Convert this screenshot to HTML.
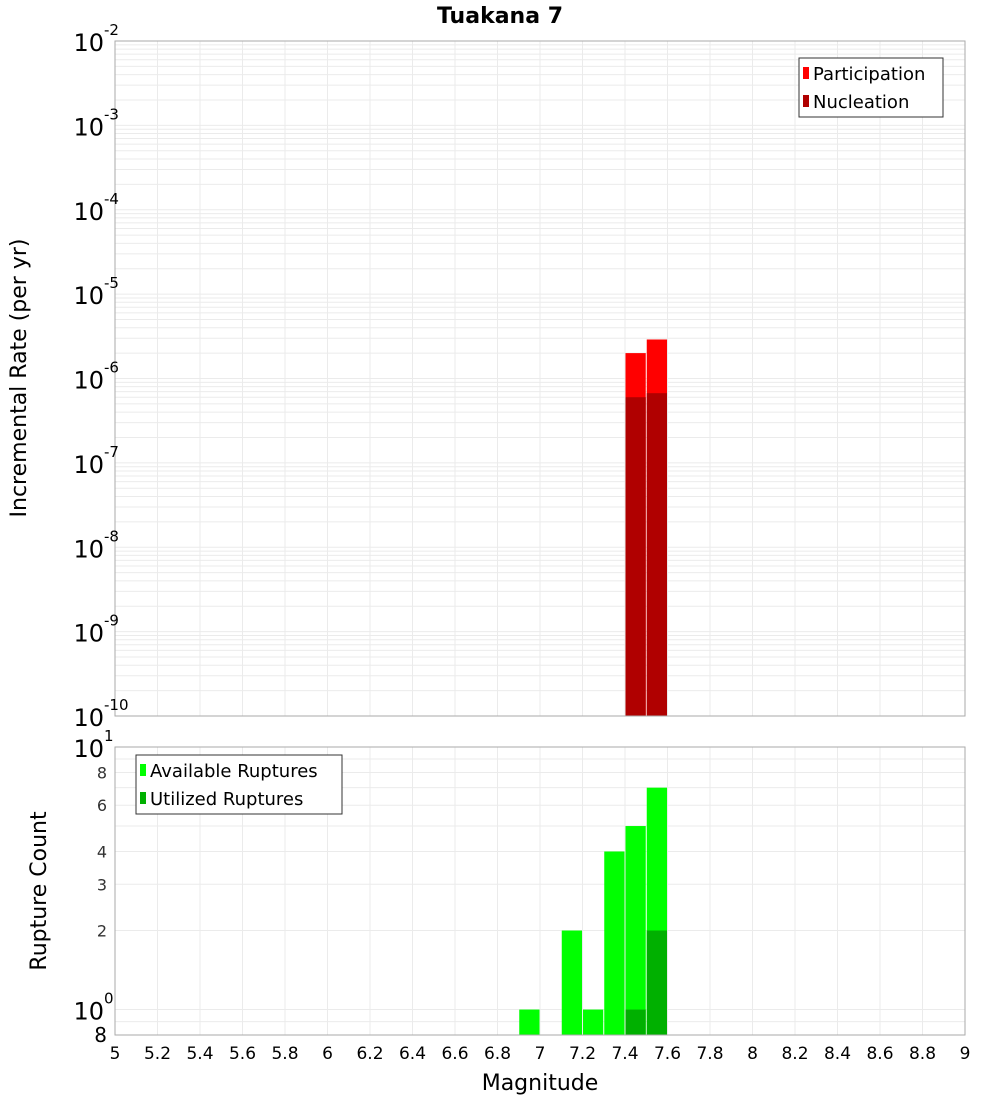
<!DOCTYPE html>
<html><head><meta charset="utf-8"><style>
body{margin:0;background:#fff;font-family:"Liberation Sans","DejaVu Sans",sans-serif;}
svg text{font-family:"DejaVu Sans","Liberation Sans",sans-serif;}
</style></head><body>
<svg id="c" width="1000" height="1100" xmlns="http://www.w3.org/2000/svg"></svg>
<script>
const binCenters=[7.45,7.55];
const participation=[2.0e-6,2.9e-6];
const nucleation=[6.0e-7,6.7e-7];
const countBins=[6.95,7.15,7.25,7.35,7.45,7.55];
const available=[1,2,1,4,5,7];
const utilBins=[7.45,7.55];
const utilized=[1,2];
const xTicks=[5,5.2,5.4,5.6,5.8,6,6.2,6.4,6.6,6.8,7,7.2,7.4,7.6,7.8,8,8.2,8.4,8.6,8.8,9];
const topExps=[-2,-3,-4,-5,-6,-7,-8,-9,-10];
const botMinor=[8,6,4,3,2];

const NS="http://www.w3.org/2000/svg",svg=document.getElementById('c');
function el(t,a,p){const e=document.createElementNS(NS,t);for(const k in a)e.setAttribute(k,a[k]);(p||svg).appendChild(e);return e;}
const L=115,R=965,T1=41,B1=716,T2=747,B2=1035;
const X=v=>L+(v-5)/4*(R-L);
const Y1=v=>T1+(-2-Math.log10(v))/8*(B1-T1);
const lmin=Math.log10(0.8),lmax=1;
const Y2=v=>B2-(Math.log10(v)-lmin)/(lmax-lmin)*(B2-T2);
const bw=(X(5.1)-X(5))-1;

// title
let t=el('text',{x:500,y:23,'text-anchor':'middle','font-size':22,'font-weight':'bold'});t.textContent='Tuakana 7';


// top grid
const g1=el('g',{});
for(let e=-10;e<-2;e++)for(let m=1;m<10;m++){const y=Y1(m*Math.pow(10,e));el('line',{x1:L,x2:R,y1:y,y2:y,stroke:'#ebebeb'},g1);}
xTicks.forEach(v=>el('line',{x1:X(v),x2:X(v),y1:T1,y2:B1,stroke:'#ebebeb'},g1));
// top bars
binCenters.forEach((c,i)=>{
 let r=el('rect',{x:X(c-0.05)+0.5,y:Y1(participation[i]),width:bw,height:B1-Y1(participation[i]),fill:'#ff0000'});
 
 r=el('rect',{x:X(c-0.05)+0.5,y:Y1(nucleation[i]),width:bw,height:B1-Y1(nucleation[i]),fill:'#b00000'});
 
});
el('rect',{x:L,y:T1,width:R-L,height:B1-T1,fill:'none',stroke:'#aaa'});
topExps.forEach(e=>{const y=Y1(Math.pow(10,e));
 const tx=el('text',{x:104,y:y+10,'text-anchor':'end','font-size':24});tx.textContent='10';
 
 const s=el('text',{x:104,y:y-6,'font-size':15});s.textContent=String(e);
});
t=el('text',{x:0,y:0,'font-size':22,'text-anchor':'middle',transform:'translate(26,378) rotate(-90)'});t.textContent='Incremental Rate (per yr)';

// top legend
const lg=el('g',{});
el('rect',{x:799,y:58,width:144,height:59,fill:'#fff',stroke:'#333'},lg);
el('rect',{x:803,y:67,width:6,height:12,fill:'#ff0000'},lg);
el('rect',{x:803,y:95,width:6,height:12,fill:'#b00000'},lg);
t=el('text',{x:813,y:80,'font-size':18},lg);t.textContent='Participation';
t=el('text',{x:813,y:108,'font-size':18},lg);t.textContent='Nucleation';

// bottom grid
const g2=el('g',{});
[0.8,0.9,1,2,3,4,5,6,7,8,9,10].forEach(v=>{const y=Y2(v);el('line',{x1:L,x2:R,y1:y,y2:y,stroke:'#ebebeb'},g2);});
xTicks.forEach(v=>el('line',{x1:X(v),x2:X(v),y1:T2,y2:B2,stroke:'#ebebeb'},g2));
countBins.forEach((c,i)=>{const r=el('rect',{x:X(c-0.05)+0.5,y:Y2(available[i]),width:bw,height:B2-Y2(available[i]),fill:'#00ff00'});
 });
utilBins.forEach((c,i)=>{const r=el('rect',{x:X(c-0.05)+0.5,y:Y2(utilized[i]),width:bw,height:B2-Y2(utilized[i]),fill:'#00b000'});
 });
el('rect',{x:L,y:T2,width:R-L,height:B2-T2,fill:'none',stroke:'#aaa'});
[[10,'1'],[1,'0']].forEach(([v,e])=>{const y=Y2(v);
 const tx=el('text',{x:104,y:y+10,'text-anchor':'end','font-size':24});tx.textContent='10';
 
 const s=el('text',{x:104,y:y-6,'font-size':15});s.textContent=e;});
botMinor.forEach(v=>{const tx=el('text',{x:107,y:Y2(v)+6,'text-anchor':'end','font-size':16,fill:'#333'});tx.textContent=String(v);});
t=el('text',{x:107,y:1042,'text-anchor':'end','font-size':20});t.textContent='8';
t=el('text',{x:0,y:0,'font-size':22,'text-anchor':'middle',transform:'translate(46,891) rotate(-90)'});t.textContent='Rupture Count';

const lg2=el('g',{});
el('rect',{x:136,y:755,width:206,height:59,fill:'#fff',stroke:'#333'},lg2);
el('rect',{x:140,y:764,width:6,height:12,fill:'#00ff00'},lg2);
el('rect',{x:140,y:792,width:6,height:12,fill:'#00b000'},lg2);
t=el('text',{x:150,y:777,'font-size':18},lg2);t.textContent='Available Ruptures';
t=el('text',{x:150,y:805,'font-size':18},lg2);t.textContent='Utilized Ruptures';
// x ticks
xTicks.forEach(v=>{const tx=el('text',{x:X(v),y:1059,'text-anchor':'middle','font-size':17});tx.textContent=String(v);
 });
t=el('text',{x:540,y:1090,'text-anchor':'middle','font-size':22});t.textContent='Magnitude';

</script>
</body></html>
